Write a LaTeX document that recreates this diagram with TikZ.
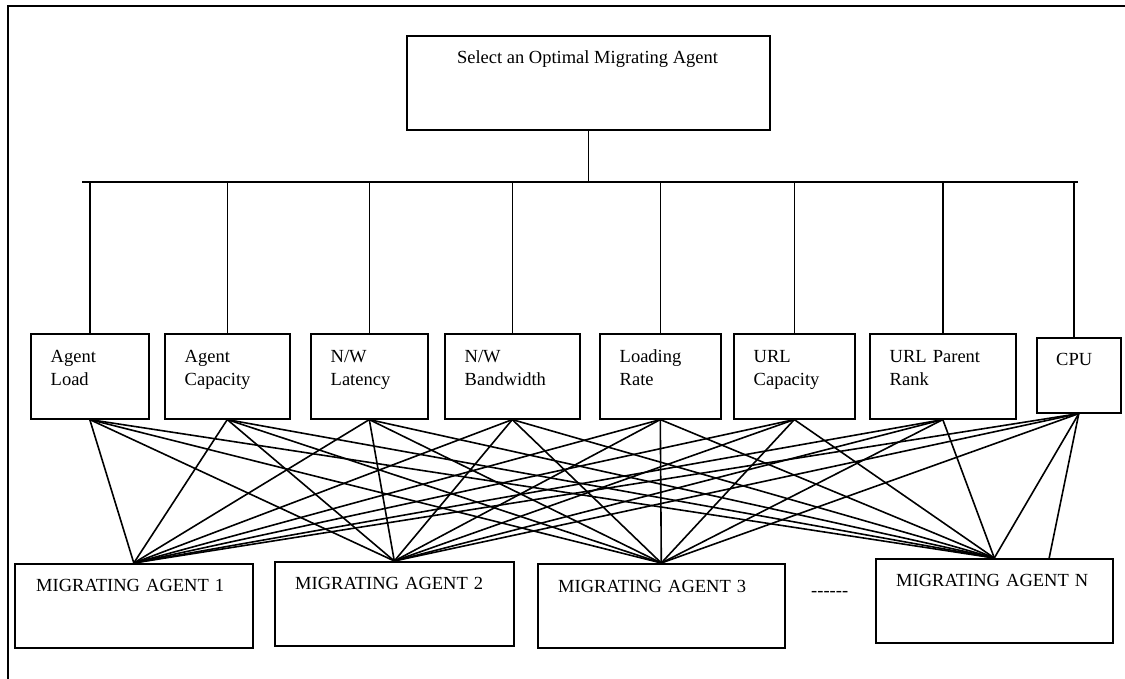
\documentclass[tikz,border=0pt]{standalone}
\usepackage{fontspec}
\setmainfont{Liberation Serif}
\usetikzlibrary{calc}

\tikzset{
  box/.style={draw, line width=1.6pt, inner sep=0pt, anchor=north west},
  lbl/.style={inner sep=0pt, anchor=base west, text width=150pt, align=left,
              font=\fontsize{18.5}{23.3}\selectfont},
  wire/.style={line width=1.6pt},
  frame/.style={line width=1.8pt}
}

% box with north-west corner (x,y) and size (w,h), in pixel units
\newcommand{\boxat}[5]{%
  \node[box, minimum width=#4pt, minimum height=#5pt] (#1) at (#2,#3) {};}

\begin{document}
\begin{tikzpicture}[x=1pt, y=-1pt]
\useasboundingbox (0,0) rectangle (1125,679);

% outer frame (only its left and top sides fall on the page)
\draw[frame] (8,679) -- (8,6) -- (1125,6);

% goal
\boxat{goal}{406}{35}{363}{94}
\node[lbl, anchor=base, text width=, align=center] (goaltxt) at (587.5,64) {Select an Optimal Migrating Agent};

% criteria
\boxat{f1}{30}{333}{118}{85}
\boxat{f2}{164}{333}{125}{85}
\boxat{f3}{310}{333}{117}{85}
\boxat{f4}{444}{333}{135}{85}
\boxat{f5}{599}{333}{121}{85}
\boxat{f6}{733}{333}{121}{85}
\boxat{f7}{869}{333}{146}{85}
\boxat{f8}{1036}{337}{84}{75}

\node[lbl] (t1) at ($(f1.north west)+(20.5,29)$) {Agent\\Load};
\node[lbl] (t2) at ($(f2.north west)+(20.5,29)$) {Agent\\Capacity};
\node[lbl] (t3) at ($(f3.north west)+(20.5,29)$) {N/W\\Latency};
\node[lbl] (t4) at ($(f4.north west)+(20.5,29)$) {N/W\\Bandwidth};
\node[lbl] (t5) at ($(f5.north west)+(20.5,29)$) {Loading\\Rate};
\node[lbl] (t6) at ($(f6.north west)+(20.5,29)$) {URL\\Capacity};
\node[lbl] (t7) at ($(f7.north west)+(20.5,29)$) {URL Parent\\Rank};
\node[lbl] (t8) at ($(f8.north west)+(20,28)$) {CPU};

% agents
\boxat{a1}{14}{563}{238}{84}
\boxat{a2}{274}{561}{239}{84}
\boxat{a3}{537}{563}{247}{84}
\boxat{aN}{875}{558}{237}{84}

\node[lbl, text width=230pt] (ta1) at ($(a1.north west)+(22,28)$) {MIGRATING AGENT 1};
\node[lbl, text width=230pt] (ta2) at ($(a2.north west)+(21,28)$) {MIGRATING AGENT 2};
\node[lbl, text width=230pt] (ta3) at ($(a3.north west)+(21,29)$) {MIGRATING AGENT 3};
\node[lbl, text width=230pt] (taN) at ($(aN.north west)+(21,28)$) {MIGRATING AGENT N};
\node[lbl, text width=60pt] (dots) at (811,596) {-{}-{}-{}-{}-{}-};

% bus from the goal to the criteria
\coordinate (busL) at (82,182);
\coordinate (busR) at (1078,182);
\draw[wire] (busL) -- (busR);
\draw[wire] (goal.south) -- (goal.south |- busL);
\foreach \f in {f1,f2,f3,f4,f5,f6,f7}
  \draw[wire] (\f.north) -- (\f.north |- busL);
\coordinate (f8top) at ($(f8.north)+(-5,0)$);
\draw[wire] (f8top) -- (f8top |- busL);

% every criterion feeds every agent
\foreach \f in {f1,f2,f3,f4,f5,f6,f7,f8}
  \foreach \a in {a1,a2,a3,aN}
    \draw[wire] (\f.south) -- (\a.north);
\coordinate (aNin) at ($(aN.north west)!0.73!(aN.north east)$);
\draw[wire] (f8.south) -- (aNin);
\end{tikzpicture}
\end{document}
